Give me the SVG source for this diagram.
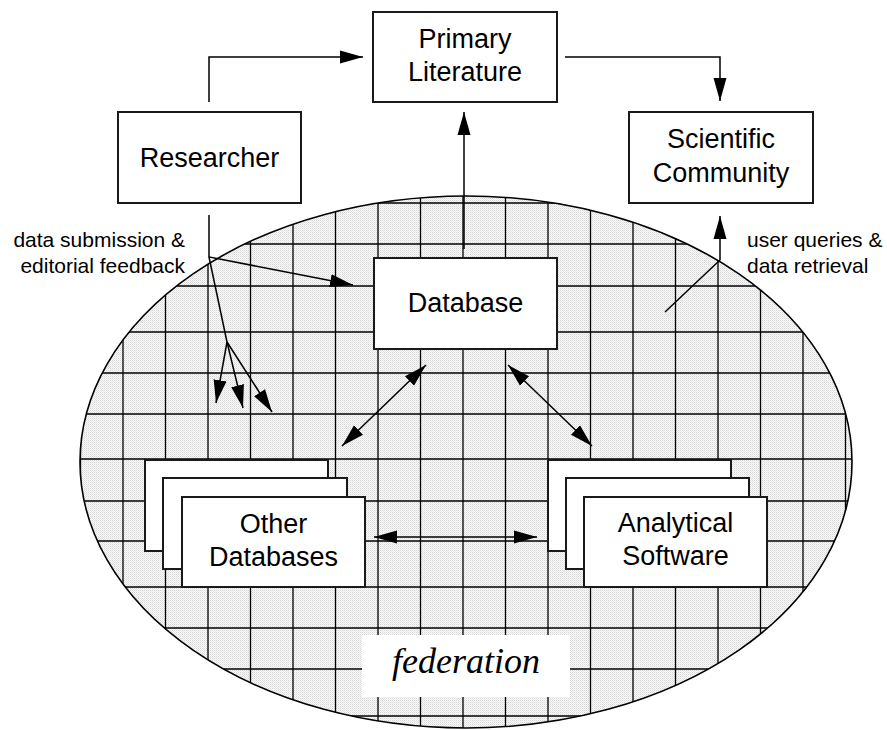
<svg xmlns="http://www.w3.org/2000/svg" width="887" height="730" viewBox="0 0 887 730">
<style>
.box{fill:#fff;stroke:#1a1a1a;stroke-width:2}
.lbl{font-family:"Liberation Sans",Arial,sans-serif;font-size:27px;fill:#000;text-anchor:middle}
.note{font-family:"Liberation Sans",Arial,sans-serif;font-size:21px;fill:#000}
.con{fill:none;stroke:#000;stroke-width:1.5}
.grid{stroke:#000;stroke-width:1.3}
</style>
<defs>
<pattern id="dots" width="2" height="2" patternUnits="userSpaceOnUse">
<rect width="2" height="2" fill="#fafafa"/>
<rect width="1" height="1" fill="#d6d6d6"/>
<rect x="1" y="1" width="1" height="1" fill="#e8e8e8"/>
</pattern>
<clipPath id="ell"><ellipse cx="466" cy="462" rx="386" ry="266"/></clipPath>
<marker id="ah" markerUnits="userSpaceOnUse" markerWidth="23" markerHeight="14" refX="23" refY="7" orient="auto-start-reverse">
<path d="M0,0.5 L23,7 L0,13.5 Z" fill="#000"/>
</marker>
</defs>
<rect width="887" height="730" fill="#fff"/>
<g id="federation">
<ellipse cx="466" cy="462" rx="386" ry="266" fill="url(#dots)"/>
<g clip-path="url(#ell)" class="grid">
<line x1="80.5" y1="0" x2="80.5" y2="730"/>
<line x1="123" y1="0" x2="123" y2="730"/>
<line x1="165.5" y1="0" x2="165.5" y2="730"/>
<line x1="208" y1="0" x2="208" y2="730"/>
<line x1="250.5" y1="0" x2="250.5" y2="730"/>
<line x1="293" y1="0" x2="293" y2="730"/>
<line x1="335.5" y1="0" x2="335.5" y2="730"/>
<line x1="378" y1="0" x2="378" y2="730"/>
<line x1="420.5" y1="0" x2="420.5" y2="730"/>
<line x1="463" y1="0" x2="463" y2="730"/>
<line x1="505.5" y1="0" x2="505.5" y2="730"/>
<line x1="548" y1="0" x2="548" y2="730"/>
<line x1="590.5" y1="0" x2="590.5" y2="730"/>
<line x1="633" y1="0" x2="633" y2="730"/>
<line x1="675.5" y1="0" x2="675.5" y2="730"/>
<line x1="718" y1="0" x2="718" y2="730"/>
<line x1="760.5" y1="0" x2="760.5" y2="730"/>
<line x1="803" y1="0" x2="803" y2="730"/>
<line x1="845.5" y1="0" x2="845.5" y2="730"/>
<line x1="0" y1="203" x2="887" y2="203"/>
<line x1="0" y1="244" x2="887" y2="244"/>
<line x1="0" y1="286" x2="887" y2="286"/>
<line x1="0" y1="332" x2="887" y2="332"/>
<line x1="0" y1="373" x2="887" y2="373"/>
<line x1="0" y1="414" x2="887" y2="414"/>
<line x1="0" y1="459" x2="887" y2="459"/>
<line x1="0" y1="501" x2="887" y2="501"/>
<line x1="0" y1="541" x2="887" y2="541"/>
<line x1="0" y1="587" x2="887" y2="587"/>
<line x1="0" y1="628" x2="887" y2="628"/>
<line x1="0" y1="669" x2="887" y2="669"/>
<line x1="0" y1="716" x2="887" y2="716"/>
</g>
<ellipse cx="466" cy="462" rx="386" ry="266" fill="none" stroke="#000" stroke-width="1.6"/>
<rect x="362" y="635" width="208" height="62" fill="#fff"/>
<text x="466" y="673" font-family="'Liberation Serif','Times New Roman',serif" font-style="italic" font-size="36" text-anchor="middle">federation</text>
</g>
<g id="connectors">
<path class="con" d="M209,102 V57 H363" marker-end="url(#ah)"/>
<path class="con" d="M565,57 H720 V101" marker-end="url(#ah)"/>
<path class="con" d="M464,249 V112" marker-end="url(#ah)"/>
<path class="con" d="M665,312 L720,260 V216" marker-end="url(#ah)"/>
<path class="con" d="M209,215 V257 L353,285" marker-end="url(#ah)"/>
<path class="con" d="M209,257 L227,342"/>
<path class="con" d="M227,342 L216,403" marker-end="url(#ah)"/>
<path class="con" d="M227,342 L243,408" marker-end="url(#ah)"/>
<path class="con" d="M227,342 L272,412" marker-end="url(#ah)"/>
<path class="con" d="M426,365 L342,446" marker-start="url(#ah)" marker-end="url(#ah)"/>
<path class="con" d="M508,365 L592,446" marker-start="url(#ah)" marker-end="url(#ah)"/>
<path class="con" d="M374,537 H537" marker-start="url(#ah)" marker-end="url(#ah)"/>
</g>
<g id="primary-literature">
<rect class="box" x="373" y="12" width="184" height="90"/>
<text class="lbl" x="465" y="48">Primary</text>
<text class="lbl" x="465" y="81">Literature</text>
</g>
<g id="researcher">
<rect class="box" x="118" y="112" width="183" height="91"/>
<text class="lbl" x="209.5" y="167">Researcher</text>
</g>
<g id="scientific-community">
<rect class="box" x="629" y="112" width="184" height="91"/>
<text class="lbl" x="721" y="148">Scientific</text>
<text class="lbl" x="721" y="182">Community</text>
</g>
<g id="database">
<rect class="box" x="374" y="258" width="183" height="91"/>
<text class="lbl" x="465.5" y="312">Database</text>
</g>
<g id="other-databases">
<rect class="box" x="145" y="460" width="183" height="91"/>
<rect class="box" x="163" y="478" width="184" height="91"/>
<rect class="box" x="182" y="497" width="183" height="90"/>
<text class="lbl" x="273.5" y="533">Other</text>
<text class="lbl" x="273.5" y="566">Databases</text>
</g>
<g id="analytical-software">
<rect class="box" x="548" y="460" width="183" height="91"/>
<rect class="box" x="566" y="478" width="183" height="91"/>
<rect class="box" x="584" y="497" width="183" height="90"/>
<text class="lbl" x="675.5" y="532">Analytical</text>
<text class="lbl" x="675.5" y="565">Software</text>
</g>
<g id="labels">
<text class="note" x="185" y="247" text-anchor="end">data submission &amp;</text>
<text class="note" x="185" y="273" text-anchor="end">editorial feedback</text>
<text class="note" x="747" y="247">user queries &amp;</text>
<text class="note" x="747" y="273">data retrieval</text>
</g>
</svg>
